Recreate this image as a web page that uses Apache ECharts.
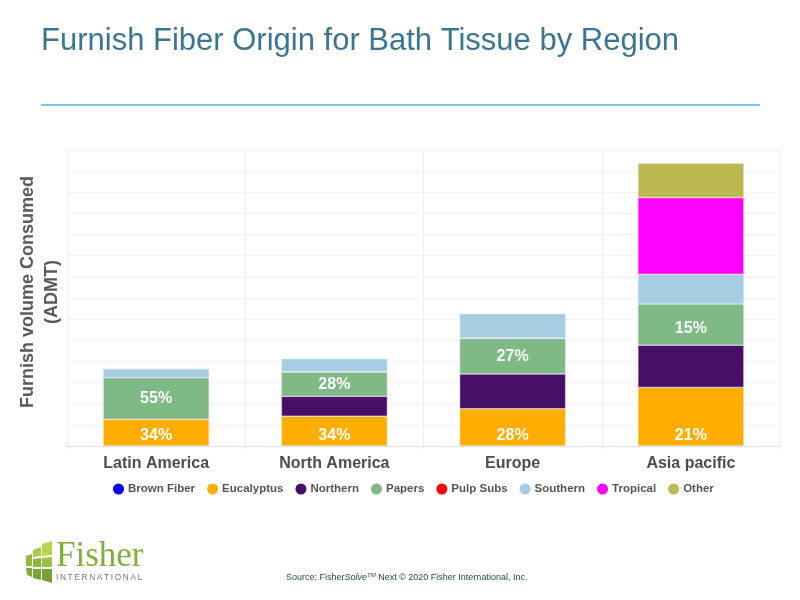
<!DOCTYPE html>
<html>
<head>
<meta charset="utf-8">
<style>
  html, body { margin: 0; padding: 0; background: #fff; }
  #main { width: 800px; height: 600px; }
</style>
<script src="https://cdn.jsdelivr.net/npm/echarts@6/dist/echarts.min.js"></script>
</head>
<body>
<div id="main"></div>
<script>
var regions = ['Latin America', 'North America', 'Europe', 'Asia pacific'];
var brownFiber = [null, null, null, null];
var eucalyptus = [1.26, 1.41, 1.76, 2.77];
var northern = [null, 0.94, 1.65, 2.0];
var papers = [1.97, 1.15, 1.68, 1.95];
var pulpSubs = [null, 0.02, 0.02, null];
var southern = [0.41, 0.61, 1.15, 1.4];
var tropical = [null, null, null, 3.63];
var other = [0.02, null, null, 1.62];
var eucalyptusLabels = ['34%', '34%', '28%', '21%'];
var papersLabels = ['55%', '28%', '27%', '15%'];

var font = 'Liberation Sans, Arial, sans-serif';

function barSeries(name, values, color, labels, labelPos) {
  return {
    name: name,
    type: 'bar',
    stack: 'furnish',
    barWidth: 106,
    data: values,
    itemStyle: { color: color, borderColor: '#e4e6f2', borderWidth: 0.5 },
    label: labels ? {
      show: true,
      position: labelPos,
      distance: 2,
      offset: labelPos === 'inside' ? [0, 5] : [0, 0],
      color: '#fff',
      fontFamily: font,
      fontWeight: 'bold',
      fontSize: 16,
      formatter: function (p) { return labels[p.dataIndex]; }
    } : { show: false },
    // the 15% label sits lower in its block than the others
    labelLayout: labelPos === 'inside' ? function (p) { return p.dataIndex === 3 ? { dy: 4 } : {}; } : undefined
  };
}

// logo blocks, light at the top right to dark at the bottom
var logoBlocks = [
  { points: [[42, 544], [52, 541], [52, 555], [42, 556]], fill: '#b7d44f' },
  { points: [[33, 550], [41, 547], [41, 556], [33, 557]], fill: '#a9ca49' },
  { points: [[42, 558], [52, 557], [52, 567], [42, 567]], fill: '#9cc146' },
  { points: [[26, 556], [32, 554], [32, 566], [26, 566]], fill: '#94b943' },
  { points: [[33, 559], [41, 558], [41, 567], [33, 567]], fill: '#8fb541' },
  { points: [[42, 569], [52, 569], [52, 583], [42, 580]], fill: '#76a236' },
  { points: [[26, 568], [32, 568], [32, 577], [27, 575]], fill: '#82a93b' },
  { points: [[33, 569], [41, 569], [41, 580], [33, 578]], fill: '#7ca538' }
];

var chart = echarts.init(document.getElementById('main'));
chart.setOption({
  animation: false,
  backgroundColor: '#fff',
  title: {
    text: 'Furnish Fiber Origin for Bath Tissue by Region',
    left: 36, top: 21,
    textStyle: { color: '#3b7590', fontFamily: font, fontWeight: 'normal', fontSize: 31 }
  },
  legend: {
    left: 108, top: 478,
    icon: 'circle',
    itemWidth: 11, itemHeight: 11, itemGap: 12,
    itemStyle: { borderWidth: 0 },
    textStyle: { color: '#555', fontFamily: font, fontWeight: 'bold', fontSize: 11.5, padding: [0, 0, 0, -1] }
  },
  grid: { left: 67, right: 20, top: 150, bottom: 154, outerBoundsMode: 'none' },
  xAxis: {
    type: 'category',
    data: regions,
    axisLine: { lineStyle: { color: '#dcdff0', width: 1 } },
    axisTick: { show: true, length: 3, lineStyle: { color: '#e4e6f0' } },
    splitLine: { show: true, lineStyle: { color: '#eceef5', width: 1 } },
    axisLabel: { color: '#4d4d4d', fontFamily: font, fontWeight: 'bold', fontSize: 16, margin: 10 }
  },
  yAxis: {
    type: 'value',
    min: 0, max: 14, interval: 1,
    name: 'Furnish volume Consumed\n(ADMT)',
    nameLocation: 'middle',
    nameGap: 3,
    nameTextStyle: { color: '#595959', fontFamily: font, fontWeight: 'bold', fontSize: 18, lineHeight: 24, padding: [0, 0, 0, 12] },
    axisLine: { show: true, lineStyle: { color: '#f1f2f7' } },
    axisTick: { show: false },
    axisLabel: { show: false },
    splitLine: { show: true, lineStyle: { color: '#f3f3f6', width: 1 } }
  },
  series: [
    barSeries('Brown Fiber', brownFiber, '#0000ff'),
    barSeries('Eucalyptus', eucalyptus, '#ffae00', eucalyptusLabels, 'insideBottom'),
    barSeries('Northern', northern, '#470f68'),
    barSeries('Papers', papers, '#7fb985', papersLabels, 'inside'),
    barSeries('Pulp Subs', pulpSubs, '#ff0000'),
    barSeries('Southern', southern, '#a6cee3'),
    barSeries('Tropical', tropical, '#ff00ff'),
    barSeries('Other', other, '#bdb84f')
  ],
  graphic: [
    { type: 'line', shape: { x1: 41, y1: 105, x2: 760, y2: 105 }, style: { stroke: '#4bb3e6', lineWidth: 1.5 } },
    { type: 'text', left: 286, top: 572, style: {
        text: '{n|Source: Fisher}{i|Solve}{s|TM}{n| Next © 2020 Fisher International, Inc.}',
        rich: {
          n: { fontFamily: font, fontSize: 9, lineHeight: 11, fill: '#1f4a4f' },
          i: { fontFamily: font, fontSize: 9, lineHeight: 11, fontStyle: 'italic', fill: '#1f4a4f' },
          s: { fontFamily: font, fontSize: 6, lineHeight: 6, fontStyle: 'italic', fill: '#1f4a4f', verticalAlign: 'top' }
        }
      } },
    { type: 'text', left: 56, top: 539, style: { text: 'Fisher', fontFamily: 'Liberation Serif, serif', fontSize: 35, fill: '#80ae3f' } },
    { type: 'text', left: 56, top: 574, style: { text: 'I\u2009N\u2009T\u2009E\u2009R\u2009N\u2009A\u2009T\u2009I\u2009O\u2009N\u2009A\u2009L', fontFamily: font, fontSize: 8.3, fill: '#6f7a70' } }
  ].concat(logoBlocks.map(function (b) {
    return { type: 'polygon', shape: { points: b.points }, style: { fill: b.fill } };
  }))
});
</script>
</body>
</html>
